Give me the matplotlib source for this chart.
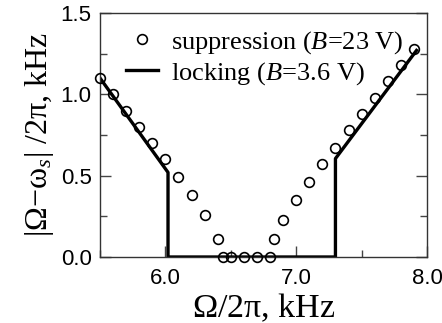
import matplotlib
matplotlib.use("Agg")
import matplotlib.pyplot as plt
from matplotlib.ticker import MultipleLocator

plt.rcParams["mathtext.fontset"] = "custom"
plt.rcParams["mathtext.rm"] = "Liberation Serif"
plt.rcParams["mathtext.it"] = "Liberation Serif:italic"

# suppression data (B = 23 V)
supp_x = [5.5, 5.6, 5.7, 5.8, 5.9, 6.0, 6.1, 6.2, 6.3, 6.4, 6.44, 6.5, 6.6, 6.7, 6.8,
          6.83, 6.9, 7.0, 7.1, 7.2, 7.3, 7.4, 7.5, 7.6, 7.7, 7.8, 7.9]
supp_y = [1.10, 1.00, 0.90, 0.80, 0.70, 0.60, 0.49, 0.38, 0.26, 0.11, 0.0, 0.0, 0.0, 0.0, 0.0,
          0.11, 0.23, 0.35, 0.46, 0.57, 0.67, 0.78, 0.88, 0.98, 1.08, 1.18, 1.28]

# locking curve (B = 3.6 V)
lock_x = [5.5, 6.02, 6.02, 7.3, 7.3, 7.92]
lock_y = [1.10, 0.52, 0.0, 0.0, 0.605, 1.27]

serif = "Liberation Serif"

fig = plt.figure(figsize=(4.42, 3.23), dpi=100)
ax = fig.add_axes([100 / 442, 1 - 257 / 323, 327 / 442, 244 / 323])

ax.plot(supp_x, supp_y, "o", ms=7, mfc="none", mec="black", mew=1.2,
        label=r"suppression ($\it{B}$=23 V)", clip_on=False, zorder=3)
ax.plot(lock_x, lock_y, "-", color="black", lw=2.4,
        label=r"locking ($\it{B}$=3.6 V)", zorder=2)

ax.set_xlim(5.5, 8.0)
ax.set_ylim(0, 1.5)
ax.xaxis.set_minor_locator(MultipleLocator(0.5))
ax.yaxis.set_minor_locator(MultipleLocator(0.25))
ax.set_xticks([6.0, 7.0, 8.0])
ax.set_xticklabels(["6.0", "7.0", "8.0"])
ax.set_yticks([0.0, 0.5, 1.0, 1.5])
ax.set_yticklabels(["0.0", "0.5", "1.0", "1.5"])

ax.tick_params(which="both", direction="in", left=True, right=True, top=False,
               bottom=True, color="#444444", labelsize=16)
ax.tick_params(axis="x", which="both", pad=8)
ax.tick_params(axis="y", which="both", pad=6)
ax.tick_params(which="major", length=8, width=1)
ax.tick_params(which="minor", length=5, width=1)
for lab in ax.get_xticklabels() + ax.get_yticklabels():
    lab.set_fontfamily("Liberation Sans")
for sp in ax.spines.values():
    sp.set_linewidth(1)
    sp.set_color("#333333")

ax.set_xlabel(r"$\mathrm{\Omega}/2\mathrm{\pi}$, kHz", fontsize=24.5, family=serif, labelpad=2)
ax.set_ylabel(r"$|\mathrm{\Omega}{-}\mathrm{\omega}_{s}|\ /2\mathrm{\pi}$, kHz",
              fontsize=23, family=serif, labelpad=3)

leg = ax.legend(loc="upper left", bbox_to_anchor=(0.08, 0.935), frameon=False,
                prop={"family": serif, "size": 19}, handlelength=1.2,
                handletextpad=0.5, labelspacing=0.15, borderpad=0, borderaxespad=0,
                numpoints=1)

fig.savefig("out.png", dpi=100)
